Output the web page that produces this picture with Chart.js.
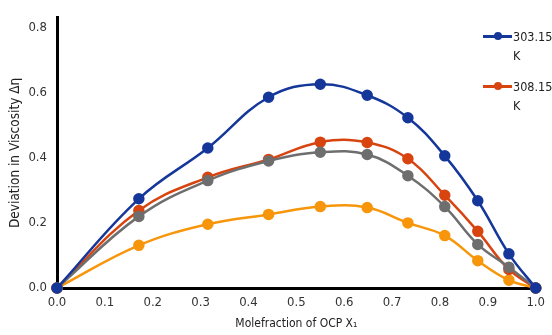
<!DOCTYPE html>
<html>
<head>
<meta charset="utf-8">
<script src="https://cdn.jsdelivr.net/npm/chart.js@4"></script>
<style>
  body { margin: 0; background: #fff; }
  #wrap { position: relative; width: 552px; height: 335px; }
  #leyenda { position: absolute; left: 483px; top: 27px; font-family: "Liberation Sans Narrow", "DejaVu Sans Condensed", sans-serif; font-size: 12.5px; color: #222; }
  .item { display: flex; align-items: flex-start; margin-bottom: 12px; }
  .muestra { position: relative; width: 29px; height: 16px; margin-right: 1px; }
  .muestra .linea { position: absolute; left: 0; top: 8px; width: 29px; height: 2.5px; }
  .muestra .punto { position: absolute; left: 11px; top: 5px; width: 8px; height: 8px; border-radius: 50%; }
  .texto { line-height: 19px; }
</style>
</head>
<body>
<div id="wrap">
  <canvas id="miGrafico" width="552" height="335"></canvas>
  <div id="leyenda"></div>
</div>
<script>
// datos
const fracciones = [0, 0.171, 0.315, 0.442, 0.55, 0.648, 0.733, 0.81, 0.879, 0.944, 1.0];
const temperaturas = ['303.15 K', '308.15 K', '313.15 K', '318.15 K'];
const serie303 = [0, 0.274, 0.43, 0.586, 0.626, 0.592, 0.523, 0.406, 0.268, 0.105, 0];
const serie308 = [0, 0.238, 0.34, 0.395, 0.448, 0.447, 0.397, 0.285, 0.174, 0.057, 0];
const serie313 = [0, 0.22, 0.33, 0.39, 0.417, 0.41, 0.345, 0.25, 0.134, 0.064, 0];
const serie318 = [0, 0.131, 0.196, 0.226, 0.25, 0.247, 0.2, 0.161, 0.084, 0.024, 0];
const ticksX = [0, 0.1, 0.2, 0.3, 0.4, 0.5, 0.6, 0.7, 0.8, 0.9, 1.0];
const ticksY = [0, 0.2, 0.4, 0.6, 0.8];

const colores = ['#15379a', '#d8440f', '#6e6e6e', '#f7960b'];
const series = [serie303, serie308, serie313, serie318];
const fuente = "'Liberation Sans Narrow', 'DejaVu Sans Condensed', sans-serif";

function puntos(valores){
  return fracciones.map((x, i) => ({x: x, y: valores[i]}));
}

const conjuntos = series.map((s, i) => ({
  label: temperaturas[i],
  data: puntos(s),
  borderColor: colores[i],
  backgroundColor: colores[i],
  borderWidth: 2.5,
  pointRadius: 4.5,
  pointHoverRadius: 4.5,
  tension: 0.4,
  clip: false
}));
// orden de dibujo: azul encima, naranja debajo
conjuntos[0].order = 1;
conjuntos[1].order = 3;
conjuntos[2].order = 2;
conjuntos[3].order = 4;

new Chart(document.getElementById('miGrafico'), {
  type: 'line',
  data: { datasets: conjuntos },
  options: {
    responsive: false,
    animation: false,
    layout: { padding: { top: 0, right: 15, left: 0, bottom: 0 } },
    plugins: { legend: { display: false }, tooltip: { enabled: false } },
    scales: {
      x: {
        type: 'linear',
        min: 0, max: 1,
        afterBuildTicks: (eje) => { eje.ticks = ticksX.map(v => ({value: v})); },
        afterFit: (eje) => { eje.height = 47; },
        grid: { drawOnChartArea: false, drawTicks: false, color: 'transparent' },
        border: { display: true, color: '#000', width: 3 },
        ticks: { padding: 7, color: '#333', font: { family: fuente, size: 13 },
                 callback: (v) => v.toFixed(1) },
        title: { display: true, text: 'Molefraction of OCP X₁', color: '#222',
                 font: { family: fuente, size: 12 }, padding: { top: 5 } }
      },
      y: {
        min: 0, max: 0.83,
        afterBuildTicks: (eje) => { eje.ticks = ticksY.map(v => ({value: v})); },
        afterFit: (eje) => { eje.width = 57; },
        grid: { drawOnChartArea: false, drawTicks: false, color: 'transparent' },
        border: { display: true, color: '#000', width: 3 },
        ticks: { padding: 10, color: '#333', font: { family: fuente, size: 13 },
                 callback: (v) => v.toFixed(1) },
        title: { display: true, text: 'Deviation in Viscosity Δη', color: '#222',
                 font: { family: fuente, size: 13.5 }, padding: { top: 7, bottom: 0 } }
      }
    }
  }
});

// leyenda en html, solo las dos primeras como en el original
const ley = document.getElementById('leyenda');
for (let i = 0; i < 2; i++) {
  const partes = temperaturas[i].split(' ');
  ley.innerHTML += '<div class="item"><div class="muestra"><div class="linea" style="background:' + colores[i] +
    '"></div><div class="punto" style="background:' + colores[i] + '"></div></div><div class="texto">' +
    partes[0] + '<br>' + partes[1] + '</div></div>';
}
</script>
</body>
</html>
